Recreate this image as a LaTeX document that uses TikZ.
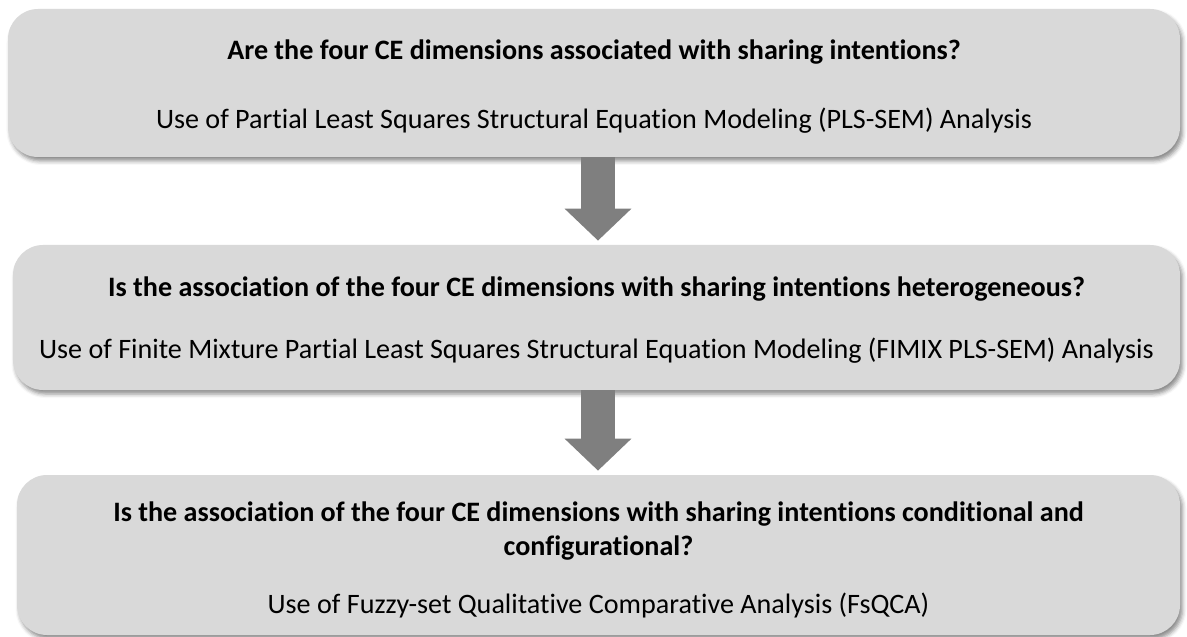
\documentclass[tikz,border=0pt]{standalone}
\usepackage{fontspec}
\setmainfont{Carlito}[RawFeature={-liga}]
\usepackage{tikz}
\usetikzlibrary{arrows.meta,shadows.blur,calc}

\definecolor{boxgray}{HTML}{D9D9D9}
\definecolor{arrowgray}{HTML}{7F7F7F}

\begin{document}
\begin{tikzpicture}[
    stagebox/.style={rounded corners=0.6cm, fill=boxgray, draw=none, inner sep=0pt,
      blur shadow={shadow xshift=0.05cm, shadow yshift=-0.08cm, shadow blur radius=0.08cm, shadow opacity=45}},
    stagetext/.style={align=center, inner sep=0pt, font=\fontsize{16}{19}\selectfont},
    flowarrow/.style={draw=arrowgray, line width=0.68cm,
      -{Triangle[length=0.64cm, width=1.3cm, fill=arrowgray]}, shorten >=0.08cm}
  ]
  % 1187 x 637 px at 0.02 cm per px
  \useasboundingbox (0,0) rectangle (23.74,-12.74);

  % Stage 1: PLS-SEM
  \node[stagebox, minimum width=23.44cm, minimum height=2.96cm] (b1) at (11.88,-1.66) {};
  \node[stagetext, yshift=-0.07cm] (t1) at (b1.center)
    {\textbf{Are the four CE dimensions associated with sharing intentions?}\\[20pt]
     Use of Partial Least Squares Structural Equation Modeling (PLS-SEM) Analysis};

  % Stage 2: FIMIX PLS-SEM
  \node[stagebox, minimum width=23.34cm, minimum height=2.9cm] (b2) at (11.93,-6.35) {};
  \node[stagetext, yshift=-0.05cm] (t2) at (b2.center)
    {\textbf{Is the association of the four CE dimensions with sharing intentions heterogeneous?}\\[16pt]
     Use of Finite Mixture Partial Least Squares Structural Equation Modeling (FIMIX PLS-SEM) Analysis};

  % Stage 3: FsQCA
  \node[stagebox, minimum width=23.26cm, minimum height=3.2cm] (b3) at (11.97,-11.1) {};
  \node[stagetext, yshift=-0.1cm] (t3) at (b3.center)
    {\textbf{Is the association of the four CE dimensions with sharing intentions conditional and}\\
     \textbf{configurational?}\\[14pt]
     Use of Fuzzy-set Qualitative Comparative Analysis (FsQCA)};

  % Block arrows between the stages
  \coordinate (ax) at (11.96,0);
  \draw[flowarrow] (b1.south -| ax) -- (b2.north -| ax);
  \draw[flowarrow] (b2.south -| ax) -- (b3.north -| ax);
\end{tikzpicture}
\end{document}
